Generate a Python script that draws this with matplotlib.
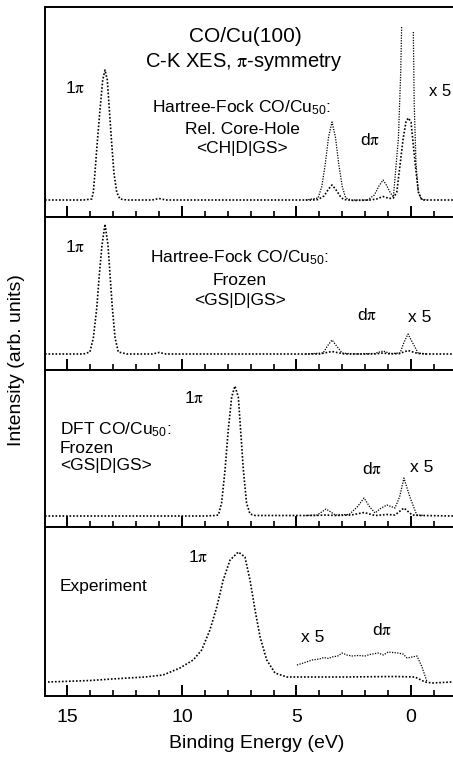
import numpy as np
import matplotlib
matplotlib.use("Agg")
import matplotlib.pyplot as plt
from matplotlib.ticker import MultipleLocator

plt.rcParams["font.family"] = ["Liberation Sans", "DejaVu Sans"]
plt.rcParams["mathtext.fontset"] = "stix"

W, H = 453, 757
NAN = np.nan

# --- panel 1: Hartree-Fock, relaxed core hole ---
p1_e = [15.98, 14.3, 13.94, 13.87, 13.80, 13.70, 13.58, 13.46, 13.36, 13.26, 13.17, 13.07,
        12.97, 12.85, 12.71, 12.4, 11.3, 11.0, 10.7, 8.0, 5.0, 4.3, 4.06, 3.8, 3.6, 3.45,
        3.3, 3.1, 2.95, 2.5, 1.8, 1.5, 1.22, 0.95, 0.77, 0.62, 0.48, 0.34, 0.22, 0.12, 0.0,
        -0.10, -0.22, -0.32, -0.47, -0.7, -1.92]
p1_i = [17, 17, 18, 25, 44, 74, 107, 137, 147, 137, 107, 74,
        44, 25, 18, 17, 17, 18.5, 17, 17, 17, 17, 17.5, 21, 28, 32,
        28, 21, 17.5, 16.5, 17, 18, 20.5, 18.5, 19, 25, 52, 79, 95, 99, 95,
        72, 45, 25, 17, 17, 17]
p1x5_e = [4.6, 4.06, 3.9, 3.75, 3.6, 3.45, 3.3, 3.15, 3.0, 2.85, 2.6, 1.9, 1.6, 1.4, 1.22,
          1.05, 0.9, 0.77, 0.55, 0.45, 0.41, NAN, -0.10, -0.14, -0.22, -0.32, -0.45, -0.7]
p1x5_i = [17, 19, 30, 52, 80, 95, 80, 52, 30, 19, 17, 17, 22, 31, 37,
          31, 24, 20, 79, 145, 190, NAN, 185, 112, 52, 25, 18, 17]

# --- panel 2: Hartree-Fock, frozen ---
p2_e = [15.98, 14.3, 14.02, 13.87, 13.72, 13.61, 13.49, 13.36, 13.23, 13.14, 13.04, 12.92,
        12.78, 12.4, 11.3, 11.0, 10.7, 5.0, 4.0, 3.45, 2.9, 1.6, 1.22, 0.9, 0.5, 0.13, -0.3,
        -0.7, -1.92]
p2_i = [16, 16, 18, 32, 62, 95, 125, 146, 125, 95, 62, 32,
        18, 16, 16, 17.5, 16, 16, 16, 18.5, 16, 16, 17, 16, 16.5, 19.5, 16.5,
        16, 16]
p2x5_e = [4.6, 3.84, 3.65, 3.45, 3.25, 3.01, 2.5, 1.6, 1.22, 0.9, 0.48, 0.3, 0.13, -0.05,
          -0.31, -0.7]
p2x5_i = [16, 17, 24, 30, 24, 17, 16, 16.5, 19, 16.5, 17, 28, 36, 28, 17, 16]

# --- panel 3: DFT, frozen ---
p3_e = [15.98, 9.0, 8.55, 8.41, 8.27, 8.12, 7.98, 7.83, 7.69, 7.54, 7.44, 7.32, 7.18, 7.03,
        6.8, 5.5, 4.2, 3.71, 3.3, 2.6, 2.05, 1.57, 1.05, 0.7, 0.31, -0.05, -0.4, -1.92]
p3_i = [11, 11, 11.5, 12, 24, 57, 97, 130, 141, 130, 97, 57, 24, 13,
        11.5, 11.5, 11.5, 12, 11.5, 12, 14.5, 11.5, 12.5, 12, 19, 12, 11.5, 11]
p3x5_e = [4.6, 4.1, 3.71, 3.3, 2.7, 2.35, 2.05, 1.8, 1.57, 1.3, 1.05, 0.7, 0.5, 0.31, 0.05,
          -0.25, -0.6]
p3x5_i = [11.5, 12, 18, 12, 12.5, 20, 29, 20, 14, 19, 22, 19, 30, 49, 30, 12, 11.5]

# --- panel 4: experiment ---
p4_e = [15.85, 14.0, 13.06, 11.62, 10.82, 10.09, 9.51, 9.14, 8.78, 8.48, 8.20, 7.90, 7.54,
        7.25, 7.03, 6.81, 6.59, 6.30, 5.94, 5.43, 4.93, 2.88, 0.70, -0.17, -0.61, -0.92, -1.79]
p4_i = [14, 15.5, 17, 19, 21, 28, 36, 46, 66, 89, 116, 136, 144,
        139, 116, 86, 59, 36, 23, 19, 19, 19, 19.5, 19, 14, 13, 14]
p4x5_e = [4.98, 4.7, 4.5, 4.32, 4.0, 3.8, 3.6, 3.45, 3.2, 3.01, 2.8, 2.58, 2.3, 2.01, 1.8,
          1.44, 1.2, 1.0, 0.8, 0.57, 0.35, 0.17, -0.26, -0.48, -0.70]
p4x5_i = [31, 33, 34.5, 36, 37, 38.5, 37.5, 39, 40, 43, 41, 40, 40.5, 40, 41.5,
          43, 41, 44, 43.5, 43, 42, 38, 40, 29, 14]

panels = [
    (7, 217, p1_e, p1_i, p1x5_e, p1x5_i),
    (217, 370, p2_e, p2_i, p2x5_e, p2x5_i),
    (370, 527, p3_e, p3_i, p3x5_e, p3x5_i),
    (527, 696, p4_e, p4_i, p4x5_e, p4x5_i),
]

fig = plt.figure(figsize=(W / 100, H / 100), dpi=100)
left, right = 45, 455
axes = []
for top, bot, e, i, e5, i5 in panels:
    ax = fig.add_axes([left / W, 1 - bot / H, (right - left) / W, (bot - top) / H])
    ax.plot(e, i, color="black", lw=1.2, ls=(0, (1, 1.1)))
    ax.plot(e5, i5, color="black", lw=0.9, ls=(0, (1, 1.1)))
    ax.set_xlim(15.98, -1.92)
    ax.set_ylim(0, bot - top)
    ax.set_yticks([])
    ax.xaxis.set_major_locator(MultipleLocator(5))
    ax.xaxis.set_minor_locator(MultipleLocator(1))
    ax.tick_params(axis="x", which="major", direction="in", length=8, width=1.4,
                   top=False, labelsize=14, pad=9)
    ax.tick_params(axis="x", which="minor", direction="in", length=4, width=1.2, top=False)
    ax.spines["right"].set_visible(False)
    for s in ("left", "top", "bottom"):
        ax.spines[s].set_linewidth(1.4)
    ax.set_xticklabels([])
    axes.append(ax)

axes[-1].set_xticks([15, 10, 5, 0])
axes[-1].set_xticklabels(["15", "10", "5", "0"])


def txt(x, y, s, size=12.5, ha="center", **kw):
    fig.text(x / W, 1 - y / H, s, fontsize=size, ha=ha, va="center", **kw)


pi = r"$\mathrm{\pi}$"
cu = r"CO/Cu$_{\mathregular{50}}$:"

# panel 1
txt(245, 37, "CO/Cu(100)", size=15)
txt(244, 62, "C-K XES, " + pi + "-symmetry", size=14.5)
txt(65, 88, "1" + pi, size=12.5, ha="left")
txt(242, 108, "Hartree-Fock " + cu, size=12.5)
txt(242, 130, "Rel. Core-Hole", size=12.5)
txt(242, 148, "<CH|D|GS>", size=12.5)
txt(370, 140, "d" + pi, size=12.5)
txt(451, 92, "x 5", size=12, ha="right")

# panel 2
txt(65, 247, "1" + pi, size=12.5, ha="left")
txt(240, 258, "Hartree-Fock " + cu, size=12.5)
txt(240, 280, "Frozen", size=12.5)
txt(240, 300, "<GS|D|GS>", size=12.5)
txt(367, 315, "d" + pi, size=12.5)
txt(420, 317, "x 5", size=12.5)

# panel 3
txt(194, 398, "1" + pi, size=12.5)
txt(60, 430, "DFT " + cu, size=12.5, ha="left")
txt(60, 448, "Frozen", size=12.5, ha="left")
txt(60, 465, "<GS|D|GS>", size=12.5, ha="left")
txt(372, 469, "d" + pi, size=12.5)
txt(422, 467, "x 5", size=12.5)

# panel 4
txt(198, 557, "1" + pi, size=12.5)
txt(60, 587, "Experiment", size=12.5, ha="left")
txt(382, 630, "d" + pi, size=12.5)
txt(313, 638, "x 5", size=12.5)

txt(257, 743, "Binding Energy (eV)", size=14)
txt(17, 360, "Intensity (arb. units)", size=14, rotation=90)

fig.savefig("out.png", dpi=100)
